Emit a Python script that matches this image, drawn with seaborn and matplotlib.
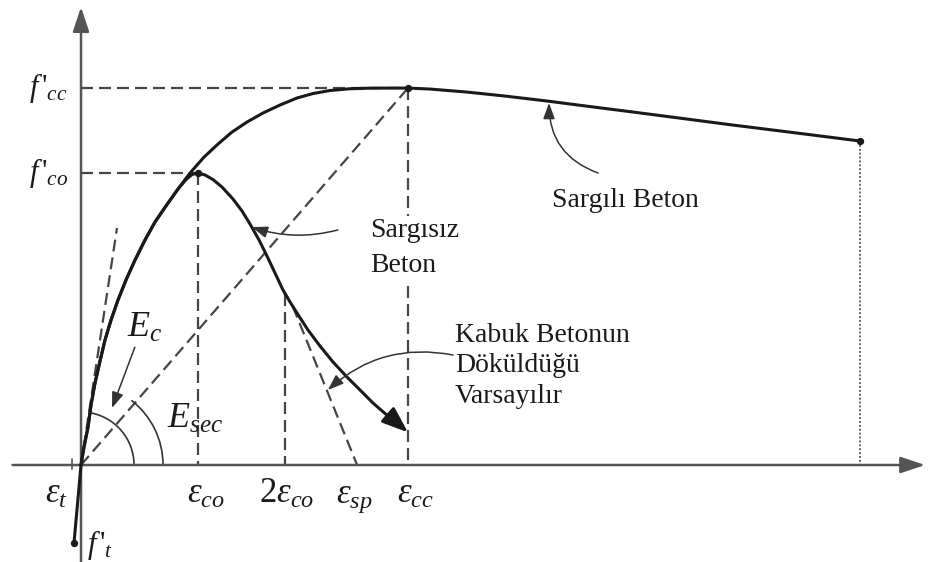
import numpy as np
import pandas as pd
import matplotlib
matplotlib.use("Agg")
import matplotlib.pyplot as plt
import matplotlib.transforms as mtransforms
from matplotlib.patches import Arc
import seaborn as sns

# Characteristic points (strain in per mille, stress in MPa)
eps_co = 2.0
eps_2co = 3.49
eps_sp = 4.72
eps_cc = 5.59
eps_cu = 13.32
eps_t = -0.15
f_co = 30.0
f_cc = 38.73
f_cu = 33.29
f_t = -8.0
eps_ft = -0.12

# Shared ascending branch
rise_strain = [0.0, 0.051, 0.120, 0.171, 0.239, 0.325, 0.410, 0.513, 0.632, 0.769,
               0.923, 1.094, 1.265, 1.453, 1.658]
rise_stress = [0.0, 1.85, 3.90, 6.16, 8.43, 10.69, 12.84, 14.90, 16.95, 19.01,
               21.06, 23.12, 24.97, 26.62, 28.36]

# Confined concrete (Sargılı Beton)
confined_strain = rise_strain + [1.863, 2.103, 2.342, 2.581, 2.838, 3.111, 3.402, 3.692,
                                 3.966, 4.256, 4.598, 4.940, 5.282, 5.590, 5.966, 6.598,
                                 7.248, 7.966, 8.701, 9.436, 10.291, 11.145, 12.239, 13.316]
confined_stress = rise_stress + [30.0, 31.64, 32.98, 34.21, 35.24, 36.17, 36.99, 37.71,
                                 38.17, 38.48, 38.66, 38.72, 38.73, 38.73, 38.63, 38.32,
                                 37.91, 37.40, 36.83, 36.27, 35.60, 34.93, 34.11, 33.29]

# Unconfined concrete (Sargısız Beton)
unconfined_strain = rise_strain + [1.795, 1.897, 2.0, 2.12, 2.256, 2.410, 2.598, 2.752,
                                   2.889, 3.043, 3.179, 3.316, 3.453, 3.573, 3.692, 3.880,
                                   4.085, 4.308, 4.547, 4.769, 4.991, 5.248, 5.504]
unconfined_stress = rise_stress + [29.33, 29.85, 30.0, 29.80, 29.33, 28.56, 27.33, 26.10,
                                   24.76, 23.12, 21.47, 19.73, 17.98, 16.75, 15.62, 13.87,
                                   12.23, 10.58, 9.04, 7.71, 6.37, 5.03, 3.80]
unconfined_tip = (5.59, 3.35)

# Tangent modulus and spalling line end points
ec_tip = (0.615, 24.35)
spall_start = (3.62, 16.3)

sns.set_theme(style="white")
plt.rcParams["font.family"] = ["Liberation Serif", "DejaVu Serif"]
plt.rcParams["mathtext.fontset"] = "custom"
plt.rcParams["mathtext.rm"] = "Liberation Serif"
plt.rcParams["mathtext.it"] = "Liberation Serif:italic"
plt.rcParams["mathtext.bf"] = "Liberation Serif:bold"

fig = plt.figure(figsize=(9.29, 5.62), dpi=100)
ax = fig.add_axes([0, 0, 1, 1])
ax.set_xlim(-1.385, 14.496)
ax.set_ylim(-9.966, 47.78)
ax.set_axis_off()

INK = "#1a1a1a"
DASH = "#454545"
AXIS = "#555555"

# Axes with arrow heads
axis_arrow = dict(arrowstyle="-|>,head_length=0.75,head_width=0.25",
                  mutation_scale=20, lw=1.8, color=AXIS, shrinkA=0, shrinkB=0)
ax.annotate("", xy=(14.43, 0), xytext=(-1.17, 0), arrowprops=axis_arrow, zorder=2)
ax.annotate("", xy=(0, 47.06), xytext=(0, -10.5), arrowprops=axis_arrow, zorder=2)

dash_kw = dict(color=DASH, lw=1.6, dashes=(5.4, 2.7), zorder=1)
# Horizontal reference lines
ax.plot([0, eps_cc], [f_cc, f_cc], **dash_kw)
ax.plot([0, eps_co], [f_co, f_co], **dash_kw)
# Vertical reference lines
ax.plot([eps_co, eps_co], [f_co, 0], **dash_kw)
ax.plot([eps_2co, eps_2co], [17.6, 0], **dash_kw)
ax.plot([eps_cc, eps_cc], [f_cc, 0], **dash_kw)
# Initial tangent, secant and spalling lines
ax.plot([0, ec_tip[0]], [0, ec_tip[1]], **dash_kw)
ax.plot([0, eps_cc], [0, f_cc], **dash_kw)
ax.plot([spall_start[0], eps_sp], [spall_start[1], 0], **dash_kw)
# Ultimate strain marker
ax.plot([eps_cu, eps_cu], [f_cu, 0], color="#666666", lw=1.4, ls=(0, (1, 1)), zorder=1)

# Stress–strain curves
curves = pd.concat([
    pd.DataFrame({"strain": confined_strain, "stress": confined_stress, "curve": "Sargılı"}),
    pd.DataFrame({"strain": unconfined_strain, "stress": unconfined_stress, "curve": "Sargısız"}),
], ignore_index=True)
sns.lineplot(data=curves, x="strain", y="stress", hue="curve",
             palette={"Sargılı": INK, "Sargısız": INK}, sort=False, estimator=None,
             legend=False, lw=2.2, ax=ax, zorder=3)
ax.annotate("", xy=unconfined_tip, xytext=(unconfined_strain[-1], unconfined_stress[-1]),
            arrowprops=dict(arrowstyle="-|>,head_length=0.8,head_width=0.3",
                            mutation_scale=20, lw=2.2, color=INK, shrinkA=0, shrinkB=0),
            zorder=3)
# Tension branch
ax.plot([0, eps_ft], [0, f_t], color=INK, lw=2.2, zorder=3)
ax.plot([eps_t, eps_t], [-0.4, 0.6], color=AXIS, lw=1.2, zorder=2)

# Point markers
ax.scatter([eps_co, eps_cc, eps_cu, eps_ft], [f_co, f_cc, f_cu, f_t],
           s=28, color=INK, zorder=4, linewidths=0)

ax.set_xlim(-1.385, 14.496)
ax.set_ylim(-9.966, 47.78)

# Modulus arcs drawn around the origin
def angle_of(p):
    o = ax.transData.transform((0, 0))
    q = ax.transData.transform(p)
    return np.degrees(np.arctan2(q[1] - o[1], q[0] - o[0]))

arc_trans = fig.dpi_scale_trans + mtransforms.ScaledTranslation(0, 0, ax.transData)
ax.add_patch(Arc((0, 0), 1.06, 1.06, theta1=0, theta2=angle_of(ec_tip),
                 transform=arc_trans, color="#333333", lw=1.2))
ax.add_patch(Arc((0, 0), 1.64, 1.64, theta1=0, theta2=angle_of((eps_cc, f_cc)) + 3,
                 transform=arc_trans, color="#333333", lw=1.2))

# Axis labels
label_kw = dict(fontsize=25, color=INK, va="baseline", ha="left",
                textcoords="offset pixels")
ax.annotate(r"$\varepsilon_t$", xy=(eps_t, -3.9), xytext=(-27, 0), **label_kw)
ax.annotate(r"$\varepsilon_{co}$", xy=(eps_co, -3.9), xytext=(-11, 0), **label_kw)
ax.annotate(r"$2\varepsilon_{co}$", xy=(eps_2co, -3.9), xytext=(-26, 0), **label_kw)
ax.annotate(r"$\varepsilon_{sp}$", xy=(eps_sp, -3.9), xytext=(-21, 0), **label_kw)
ax.annotate(r"$\varepsilon_{cc}$", xy=(eps_cc, -3.9), xytext=(-11, 0), **label_kw)

ax.annotate(r"$f\,'_{cc}$", xy=(0, f_cc), xytext=(-13, 0), textcoords="offset pixels",
            fontsize=22, color=INK, ha="right", va="center")
ax.annotate(r"$f\,'_{co}$", xy=(0, f_co), xytext=(-13, 0), textcoords="offset pixels",
            fontsize=22, color=INK, ha="right", va="center")
ax.annotate(r"$f\,'_{t}$", xy=(0, f_t), xytext=(6, -2), textcoords="offset pixels",
            fontsize=22, color=INK, ha="left", va="center")

ax.text(0.79, 13.15, r"$E_c$", fontsize=26, color=INK, ha="left", va="baseline")
ax.text(1.47, 3.8, r"$E_{sec}$", fontsize=26, color=INK, ha="left", va="baseline")

# Arrow from E_c to its arc
ax.annotate("", xy=(0.53, 5.86), xytext=(0.92, 12.1),
            arrowprops=dict(arrowstyle="-|>,head_length=0.6,head_width=0.22",
                            mutation_scale=16, lw=1.1, color="#333333",
                            shrinkA=0, shrinkB=0))

# Curve annotations
note_arrow = dict(arrowstyle="-|>,head_length=0.6,head_width=0.22",
                  mutation_scale=16, lw=1.1, color="#333333", shrinkA=0, shrinkB=0)
ax.annotate("", xy=(8.0, 37.2), xytext=(8.84, 30.0),
            arrowprops=dict(connectionstyle="arc3,rad=-0.35", **note_arrow))
ax.text(8.05, 26.5, "Sargılı Beton", fontsize=20, color=INK, ha="left", va="baseline")

ax.annotate("", xy=(2.92, 24.45), xytext=(4.39, 24.15),
            arrowprops=dict(connectionstyle="arc3,rad=-0.15", **note_arrow))
ax.text(4.94, 25.4, "Sargısız\nBeton", fontsize=20, color=INK, ha="left", va="top",
        linespacing=1.55, zorder=5,
        bbox=dict(boxstyle="square,pad=0.05", facecolor="white", edgecolor="none"))

ax.annotate("", xy=(4.22, 7.71), xytext=(6.36, 11.3),
            arrowprops=dict(connectionstyle="arc3,rad=0.25", **note_arrow))
ax.text(6.39, 14.6, "Kabuk Betonun\nDöküldüğü\nVarsayılır", fontsize=20, color=INK,
        ha="left", va="top", linespacing=1.28)

fig.savefig("out.png", dpi=100, facecolor="white")
